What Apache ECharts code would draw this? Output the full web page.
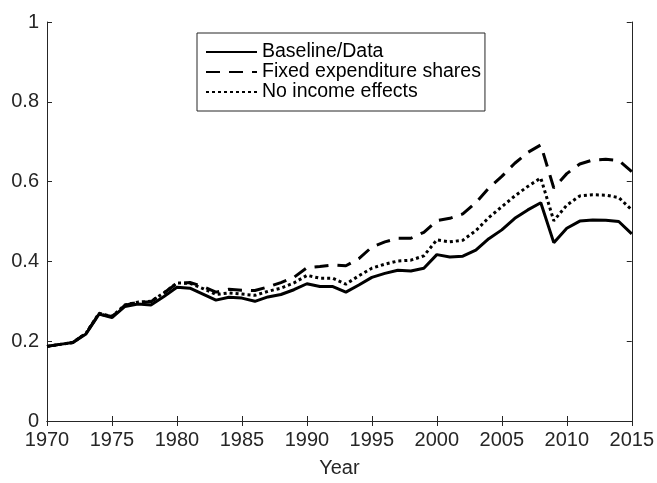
<!DOCTYPE html>
<html>
<head>
<meta charset="utf-8">
<style>
  html, body { margin: 0; padding: 0; background: #ffffff; }
  #chart { width: 657px; height: 483px; }
</style>
<script src="https://cdn.jsdelivr.net/npm/echarts@6/dist/echarts.min.js"></script>
</head>
<body>
<div id="chart"></div>
<script>
// Years 1970–2015
const years = [];
for (let y = 1970; y <= 2015; y++) years.push(y);

const seriesNames = ['Baseline/Data', 'Fixed expenditure shares', 'No income effects'];

const baseline = [
  0.187, 0.192, 0.197, 0.218, 0.268, 0.259, 0.287, 0.293, 0.291, 0.312,
  0.335, 0.333, 0.318, 0.303, 0.310, 0.308, 0.300, 0.311, 0.317, 0.329,
  0.344, 0.337, 0.337, 0.323, 0.341, 0.360, 0.370, 0.378, 0.376, 0.383,
  0.417, 0.411, 0.413, 0.428, 0.457, 0.479, 0.508, 0.529, 0.547, 0.447,
  0.483, 0.501, 0.504, 0.503, 0.500, 0.469
];

const fixedShares = [
  0.187, 0.192, 0.197, 0.220, 0.268, 0.262, 0.290, 0.298, 0.299, 0.321,
  0.345, 0.347, 0.337, 0.323, 0.330, 0.328, 0.327, 0.336, 0.347, 0.360,
  0.384, 0.387, 0.391, 0.389, 0.407, 0.436, 0.449, 0.458, 0.458, 0.473,
  0.502, 0.508, 0.519, 0.547, 0.584, 0.613, 0.646, 0.673, 0.692, 0.584,
  0.620, 0.644, 0.654, 0.656, 0.653, 0.625
];

const noIncome = [
  0.187, 0.192, 0.197, 0.220, 0.270, 0.262, 0.291, 0.298, 0.300, 0.321,
  0.346, 0.345, 0.332, 0.317, 0.321, 0.318, 0.315, 0.325, 0.333, 0.346,
  0.365, 0.358, 0.358, 0.343, 0.364, 0.383, 0.393, 0.401, 0.403, 0.414,
  0.454, 0.449, 0.453, 0.477, 0.510, 0.537, 0.564, 0.588, 0.609, 0.502,
  0.541, 0.564, 0.567, 0.566, 0.560, 0.529
];

const font = "'Liberation Sans', Arial, Helvetica, sans-serif";
const axisColor = '#262626';

function pairs(vals) { return years.map((y, i) => [y, vals[i]]); }

const chart = echarts.init(document.getElementById('chart'), null, { renderer: 'canvas' });

const tickStyle = { show: true, inside: true, length: 5, lineStyle: { color: axisColor, width: 1 } };

chart.setOption({
  animation: false,
  backgroundColor: '#ffffff',
  textStyle: { fontFamily: font },
  grid: { left: 47, right: 24, top: 22, bottom: 58, containLabel: false },
  legend: {
    data: seriesNames,
    orient: 'vertical',
    left: 197,
    top: 33,
    padding: [9, 4, 9, 8],
    itemGap: 0,
    itemWidth: 51,
    itemHeight: 20,
    borderColor: axisColor,
    borderWidth: 1,
    backgroundColor: '#ffffff',
    itemStyle: { opacity: 0 },
    textStyle: { fontFamily: font, fontSize: 19.5, color: '#000000' },
    selectedMode: false
  },
  xAxis: [
    {
      type: 'value', min: 1970, max: 2015, interval: 5,
      name: 'Year', nameLocation: 'middle', nameGap: 37,
      nameTextStyle: { fontFamily: font, fontSize: 20, color: axisColor },
      axisLine: { show: true, lineStyle: { color: axisColor, width: 1 } },
      axisTick: tickStyle,
      axisLabel: { fontFamily: font, fontSize: 20, color: axisColor, margin: 9, formatter: v => String(v) },
      splitLine: { show: false }
    },
    {
      type: 'value', position: 'top', min: 1970, max: 2015, interval: 5,
      axisLine: { show: true, lineStyle: { color: axisColor, width: 1 } },
      axisTick: tickStyle,
      axisLabel: { show: false },
      splitLine: { show: false }
    }
  ],
  yAxis: [
    {
      type: 'value', min: 0, max: 1, interval: 0.2,
      axisLine: { show: true, lineStyle: { color: axisColor, width: 1 } },
      axisTick: tickStyle,
      axisLabel: { fontFamily: font, fontSize: 20, color: axisColor, margin: 8 },
      splitLine: { show: false }
    },
    {
      type: 'value', position: 'right', min: 0, max: 1, interval: 0.2,
      axisLine: { show: true, lineStyle: { color: axisColor, width: 1 } },
      axisTick: tickStyle,
      axisLabel: { show: false },
      splitLine: { show: false }
    }
  ],
  series: [
    {
      name: seriesNames[0], type: 'line', data: pairs(baseline),
      symbol: 'none', z: 3,
      lineStyle: { color: '#000000', width: 3, type: 'solid' },
      itemStyle: { color: '#000000' }
    },
    {
      name: seriesNames[1], type: 'line', data: pairs(fixedShares),
      symbol: 'none', z: 2,
      lineStyle: { color: '#000000', width: 3, type: [14, 9] },
      itemStyle: { color: '#000000' }
    },
    {
      name: seriesNames[2], type: 'line', data: pairs(noIncome),
      symbol: 'none', z: 2,
      lineStyle: { color: '#000000', width: 3, type: [3, 3] },
      itemStyle: { color: '#000000' }
    }
  ]
});
</script>
</body>
</html>
